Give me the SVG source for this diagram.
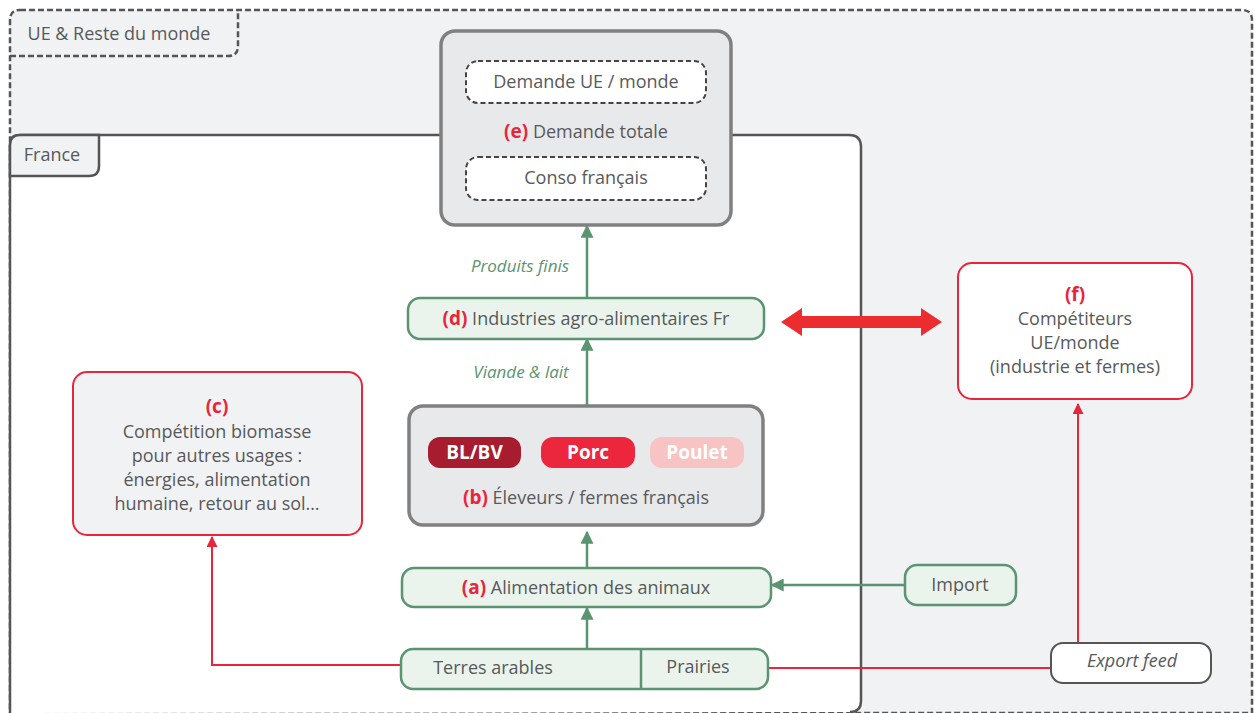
<svg xmlns="http://www.w3.org/2000/svg" width="1255" height="713" viewBox="0 0 1255 713">
<defs>
<style>
.t{font-family:"Open Sans","Liberation Sans",sans-serif;font-size:18px;fill:#58595b;text-anchor:middle}
.lab{font-weight:bold;fill:#e8253b;font-size:19px}
.it{font-style:italic}
.gi{font-family:"Open Sans","Liberation Sans",sans-serif;font-size:17px;font-style:italic;fill:#5a9470;text-anchor:middle}
.pill{font-family:"Open Sans","Liberation Sans",sans-serif;font-size:19px;font-weight:bold;fill:#fff;text-anchor:middle}
.gbox{fill:#eaf4ed;stroke:#5a9470;stroke-width:2.5}
.grey{fill:#e8e9eb;stroke:#808080;stroke-width:3.5}
.dash{fill:#fff;stroke:#444;stroke-width:2;stroke-dasharray:5 3}
.red{stroke:#e8253b;stroke-width:2;fill:none}
.grn{stroke:#5a9470;stroke-width:2.5;fill:none}
</style>
<marker id="agm" viewBox="0 0 10 10" refX="9" refY="5" markerWidth="13" markerHeight="13" orient="auto" markerUnits="userSpaceOnUse">
<path d="M0,0 L10,5 L0,10 z" fill="#5a9470"/>
</marker>
<marker id="arm" viewBox="0 0 10 10" refX="9" refY="5" markerWidth="11" markerHeight="11" orient="auto" markerUnits="userSpaceOnUse">
<path d="M0,0 L10,5 L0,10 z" fill="#e8253b"/>
</marker>
</defs>
<g id="zone-monde">
<path d="M20,10 H1242 Q1252,10 1252,20 V713 H10 V20 Q10,10 20,10 Z" fill="#f1f2f4" stroke="#555" stroke-width="2.5" stroke-dasharray="6 3"/>
<path d="M10,56 H228 Q238,56 238,46 V10" fill="none" stroke="#555" stroke-width="2.5" stroke-dasharray="6 3"/>
<text class="t" x="119" y="40">UE &amp; Reste du monde</text>
</g>
<g id="zone-france">
<path d="M10,713 V145 Q10,135 20,135 H849 Q861,135 861,147 V701 Q861,712 850,712" fill="#fff" stroke="#555" stroke-width="2.5"/>
<path d="M10,176 H89 Q99,176 99,166 V135 H20 Q10,135 10,145 Z" fill="#f1f2f4" stroke="#555" stroke-width="2.5"/>
<text class="t" x="52" y="161">France</text>
</g>
<g id="connectors">
<line class="grn" x1="587" y1="298" x2="587" y2="226" marker-end="url(#agm)"/>
<line class="grn" x1="587" y1="406" x2="587" y2="339" marker-end="url(#agm)"/>
<line class="grn" x1="587" y1="568" x2="587" y2="532" marker-end="url(#agm)"/>
<line class="grn" x1="587" y1="649" x2="587" y2="608" marker-end="url(#agm)"/>
<line class="grn" x1="906" y1="585" x2="772" y2="585" marker-end="url(#agm)"/>
<polyline class="red" points="401,665 212,665 212,537" marker-end="url(#arm)"/>
<line class="red" x1="768" y1="668" x2="1052" y2="668"/>
<line class="red" x1="1078" y1="643" x2="1078" y2="404" marker-end="url(#arm)"/>
<polygon points="781,322 802,308 802,316 921,316 921,308 942,322 921,336 921,328 802,328 802,336" fill="#ec2d30"/>
<text class="gi" x="520" y="272">Produits finis</text>
<text class="gi" x="521" y="378">Viande &amp; lait</text>
</g>
<g id="node-e">
<rect class="grey" x="441" y="31" width="290" height="194" rx="14"/>
<rect class="dash" x="466" y="61" width="240" height="42" rx="12"/>
<text class="t" x="586" y="88">Demande UE / monde</text>
<text class="t" x="586" y="138"><tspan class="lab">(e)</tspan> Demande totale</text>
<rect class="dash" x="466" y="157" width="240" height="43" rx="12"/>
<text class="t" x="586" y="184">Conso français</text>
</g>
<g id="node-d">
<rect class="gbox" x="408" y="298" width="356" height="41" rx="12"/>
<text class="t" x="586" y="325"><tspan class="lab">(d)</tspan> Industries agro-alimentaires Fr</text>
</g>
<g id="node-b">
<rect class="grey" x="409" y="406" width="354" height="119" rx="14"/>
<rect x="428" y="437" width="93" height="31" rx="12" fill="#a81c30"/>
<text class="pill" x="474.5" y="459">BL/BV</text>
<rect x="541" y="437" width="94" height="31" rx="12" fill="#ec263d"/>
<text class="pill" x="588" y="459">Porc</text>
<rect x="650" y="437" width="94" height="31" rx="12" fill="#f8c3c3"/>
<text class="pill" x="697" y="459">Poulet</text>
<text class="t" x="586" y="504"><tspan class="lab">(b)</tspan> Éleveurs / fermes français</text>
</g>
<g id="node-a">
<rect class="gbox" x="402" y="568" width="369" height="39" rx="12"/>
<text class="t" x="586" y="594"><tspan class="lab">(a)</tspan> Alimentation des animaux</text>
</g>
<g id="node-terres">
<rect class="gbox" x="401" y="649" width="367" height="40" rx="12"/>
<line x1="641" y1="649" x2="641" y2="689" stroke="#5a9470" stroke-width="2.5"/>
<text class="t" x="493" y="674">Terres arables</text>
<text class="t" x="698" y="673">Prairies</text>
</g>
<g id="node-import">
<rect class="gbox" x="905" y="565" width="111" height="40" rx="12"/>
<text class="t" x="960" y="591">Import</text>
</g>
<g id="node-export">
<rect x="1051" y="643" width="160" height="40" rx="12" fill="#fff" stroke="#555" stroke-width="2"/>
<text class="t it" x="1132" y="667">Export feed</text>
</g>
<g id="node-c">
<rect x="73" y="372" width="289" height="163" rx="14" fill="#f1f2f4" stroke="#e8253b" stroke-width="2"/>
<text class="t" x="217" y="413"><tspan class="lab">(c)</tspan></text>
<text class="t" x="217" y="438">Compétition biomasse</text>
<text class="t" x="217" y="462">pour autres usages :</text>
<text class="t" x="217" y="486">énergies, alimentation</text>
<text class="t" x="217" y="510">humaine, retour au sol…</text>
</g>
<g id="node-f">
<rect x="958" y="263" width="234" height="136" rx="14" fill="#fff" stroke="#e8253b" stroke-width="2"/>
<text class="t" x="1075" y="301"><tspan class="lab">(f)</tspan></text>
<text class="t" x="1075" y="325">Compétiteurs</text>
<text class="t" x="1075" y="349">UE/monde</text>
<text class="t" x="1075" y="373">(industrie et fermes)</text>
</g>
</svg>
